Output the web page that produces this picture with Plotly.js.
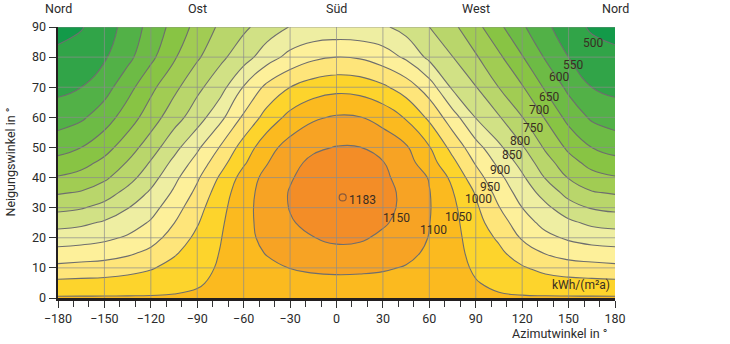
<!DOCTYPE html>
<html><head><meta charset="utf-8">
<script src="https://cdn.plot.ly/plotly-3.0.1.min.js"></script>
<style>html,body{margin:0;padding:0;background:#fff;}#chart{width:730px;height:344px;}</style>
</head><body><div id="chart"></div>
<script>
// Azimuth (deg) columns and tilt (deg) rows of the irradiation grid
const azimuth = [-180,-165,-150,-135,-120,-105,-90,-75,-60,-45,-30,-15,0,15,30,45,60,75,90,105,120,135,150,165,180];
const tilt = [0,5,10,15,20,25,30,35,40,45,50,60,70,80,90];

// Annual irradiation kWh/(m²a), one array per tilt row (azimuth -180 ... 180)
const irrT0  = [1055,1055,1055,1055,1055,1055,1055,1055,1055,1055,1055,1055,1055,1055,1055,1055,1055,1055,1055,1055,1055,1055,1055,1055,1055];
const irrT5  = [1012,1014,1016,1020,1025,1036,1047,1056,1065,1075,1081,1083,1084,1084,1082,1080,1070,1060,1052,1042,1029,1021,1017,1014,1012];
const irrT10 = [963,968,972,982,996,1016,1036,1055,1072,1088,1101,1109,1113,1111,1106,1096,1079,1064,1045,1026,1005,986,973,968,963];
const irrT15 = [917,922,928,941,962,994,1024,1052,1079,1103,1120,1130,1139,1136,1124,1115,1090,1066,1036,1010,975,947,930,922,917];
const irrT20 = [875,880,890,906,930,971,1011,1048,1084,1114,1135,1149,1158,1156,1142,1128,1098,1067,1026,993,945,913,893,880,875];
const irrT25 = [832,840,856,877,905,949,996,1043,1084,1120,1146,1163,1172,1170,1155,1136,1101,1065,1017,973,922,885,860,840,832];
const irrT30 = [787,796,816,848,882,928,982,1036,1083,1123,1152,1172,1180,1179,1163,1140,1103,1061,1008,952,900,861,821,796,787];
const irrT35 = [745,754,777,815,857,907,962,1026,1079,1122,1153,1173,1182,1180,1165,1139,1102,1053,996,932,879,831,783,754,745];
const irrT40 = [704,717,741,780,830,887,943,1007,1069,1116,1146,1169,1178,1177,1159,1132,1097,1038,971,912,858,797,747,717,704];
const irrT45 = [666,683,712,753,804,862,918,981,1043,1097,1137,1160,1168,1167,1152,1120,1070,1012,945,888,833,770,719,683,666];
const irrT50 = [631,650,682,725,776,834,891,954,1021,1081,1120,1142,1152,1151,1132,1106,1053,984,919,859,805,743,690,650,631];
const irrT60 = [576,592,626,675,725,779,827,887,958,1019,1065,1093,1105,1102,1082,1045,990,922,848,804,751,696,634,592,576];
const irrT70 = [537,550,580,632,688,737,788,831,903,962,1000,1024,1035,1030,1009,976,925,842,802,749,704,643,588,550,537];
const irrT80 = [507,520,544,586,638,694,743,789,828,878,915,940,950,945,924,892,838,801,755,709,653,595,550,520,507];
const irrT90 = [490,497,525,569,617,667,716,759,791,822,852,862,864,862,858,831,800,761,716,661,607,562,518,494,490];

// Maximum
const maxAz = [4];
const maxTilt = [33.4];
const maxValue = [1183];

// Axis ticks and labels
const xTicks = [-180,-150,-120,-90,-60,-30,0,30,60,90,120,150,180];
const yTicks = [0,10,20,30,40,50,60,70,80,90];
const compassAz = [-180,-90,0,90,180];
const compassText = ['Nord','Ost','Süd','West','Nord'];

// Contour labels (text and where they sit in the picture)
const levelText = ['500','550','600','650','700','750','800','850','900','950','1000','1050','1100','1150'];
const levelAz   = [166,152.9,143.9,137.6,130.9,127.2,118.6,113.3,105.7,99.3,91.7,78.8,62.6,38.9];
const levelTilt = [84.6,77.4,73.3,66.9,62.4,56.4,52.2,47.5,42.5,37,32.8,27,22.5,26.7];

const zGrid = [irrT0,irrT5,irrT10,irrT15,irrT20,irrT25,irrT30,irrT35,irrT40,irrT45,irrT50,irrT60,irrT70,irrT80,irrT90];

// Band colours: below 500, 500–550, ..., 1100–1150, above 1150
const bandColors = ['#139a49','#31a448','#52b147','#6dbb45','#88c444','#a1cc53','#b9d66b','#d1e185',
                    '#eeeea2','#fdf09a','#fee57a','#fdd42c','#fbba1f','#f7a324','#f38d27'];
const colorscale = bandColors.map((c, i) => [i/(bandColors.length-1), c]);

const font = "Roboto, 'Open Sans', sans-serif";
const textCol = '#2b2b2b';

const traces = [
  {
    type: 'contour', x: azimuth, y: tilt, z: zGrid,
    colorscale: colorscale, showscale: false,
    contours: {start: 500, end: 1150, size: 50, coloring: 'fill', showlines: true},
    line: {color: '#6e6e6e', width: 1.1, smoothing: 1.3},
    hoverinfo: 'skip'
  },
  {
    type: 'scatter', mode: 'markers', x: maxAz, y: maxTilt,
    marker: {symbol: 'circle-open', size: 7, color: '#8a5a3a', line: {width: 1.2}},
    hoverinfo: 'skip', showlegend: false
  }
];

const shapes = [];
xTicks.slice(1, -1).forEach(v => shapes.push({type:'line', xref:'x', yref:'y', x0:v, x1:v, y0:0, y1:90, layer:'above', line:{color:'rgba(140,140,140,0.7)', width:1}}));
yTicks.slice(1).forEach(v => shapes.push({type:'line', xref:'x', yref:'y', x0:-180, x1:180, y0:v, y1:v, layer:'above', line:{color:'rgba(140,140,140,0.7)', width:1}}));

const annotations = [];
compassAz.forEach((a, i) => annotations.push({xref:'x', yref:'paper', x:a, y:1, yanchor:'bottom', yshift:9, text:compassText[i], showarrow:false, font:{family:font, size:12.5, color:textCol}}));
levelText.forEach((t, i) => annotations.push({xref:'x', yref:'y', x:levelAz[i], y:levelTilt[i], text:t, showarrow:false, font:{family:font, size:12, color:'#3a2e22'}}));
annotations.push({xref:'x', yref:'y', x:maxAz[0]+3, y:maxTilt[0]-0.8, xanchor:'left', text:String(maxValue[0]), showarrow:false, font:{family:font, size:12, color:'#3a2e22'}});
annotations.push({xref:'x', yref:'y', x:178, y:1.2, xanchor:'right', yanchor:'bottom', text:'kWh/(m²a)', showarrow:false, font:{family:font, size:12, color:'#3a2e22'}});
annotations.push({xref:'paper', yref:'paper', x:1, y:0, xanchor:'right', yanchor:'top', yshift:-26, xshift:-6, text:'Azimutwinkel in °', showarrow:false, font:{family:font, size:12.5, color:textCol}});
annotations.push({xref:'paper', yref:'paper', x:0, y:0.5, xanchor:'center', yanchor:'middle', xshift:-48, textangle:-90, text:'Neigungswinkel in °', showarrow:false, font:{family:font, size:12.5, color:textCol}});

const layout = {
  width: 730, height: 344,
  margin: {l: 58, r: 115, t: 27, b: 46},
  paper_bgcolor: '#ffffff', plot_bgcolor: '#ffffff',
  showlegend: false,
  font: {family: font, size: 12, color: textCol},
  xaxis: {
    range: [-180, 180], tickvals: xTicks, ticks: 'outside', ticklen: 7, tickwidth: 1, tickcolor: '#333',
    minor: {dtick: 10, tick0: 0, ticks: 'outside', ticklen: 6, tickcolor: '#333', showgrid: false},
    showgrid: false, zeroline: false, showline: true, linecolor: '#231f20', linewidth: 2.5,
    layer: 'above traces', tickfont: {family: font, size: 12.5, color: textCol}, fixedrange: true
  },
  yaxis: {
    range: [0, 90], tickvals: yTicks, ticks: 'outside', ticklen: 7, tickwidth: 1, tickcolor: '#333',
    showgrid: false, zeroline: false, showline: true, linecolor: '#231f20', linewidth: 2.5,
    layer: 'above traces', tickfont: {family: font, size: 12.5, color: textCol}, fixedrange: true
  },
  shapes: shapes,
  annotations: annotations
};

Plotly.newPlot('chart', traces, layout, {staticPlot: true, displayModeBar: false});
</script>
</body></html>
